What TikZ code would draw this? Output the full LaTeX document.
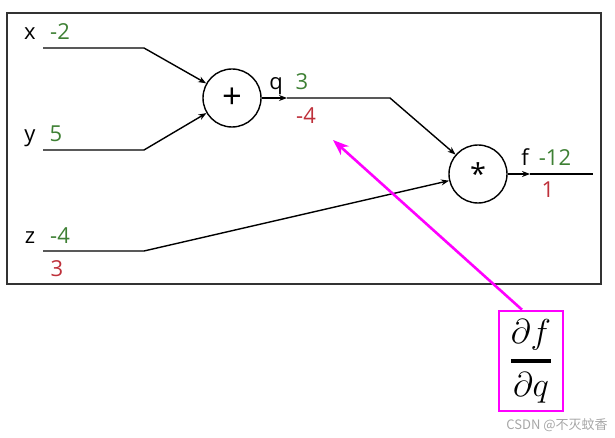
\documentclass[tikz,border=0pt]{standalone}
\usepackage{amsmath}
\usepackage{fontspec}
\setmainfont{Open Sans}
\newfontfamily\cjk{Noto Sans CJK SC}
\usetikzlibrary{arrows.meta,positioning}
\definecolor{valgreen}{RGB}{62,128,52}
\definecolor{gradred}{RGB}{190,48,58}
\definecolor{hilite}{RGB}{255,0,255}

\begin{document}
\begin{tikzpicture}[x=0.5pt,y=-0.5pt,
op/.style={circle,draw,line width=0.7pt,minimum size=29pt,inner sep=0pt,font=\LARGE},
lbl/.style={anchor=base,inner sep=0pt,font=\fontsize{11}{13}\selectfont},
fwd/.style={lbl,text=valgreen},
bwd/.style={lbl,text=gradred},
wire/.style={line width=0.7pt},
tip/.style={wire,-{Stealth[length=4pt,width=3pt]}}]
\useasboundingbox (0,0) rectangle (615,438);
\draw[line width=0.7pt,black!80] (7,13) rectangle (601,284);
% gates
\node[op] (P) at (232,98) {+};
\node[op,font=\Large] (M) at (478,174) {\raisebox{-0.22em}{*}};
% wire corners
\coordinate (x0) at (43,48);
\coordinate (x1) at (144,48);
\coordinate (y0) at (43,150);
\coordinate (y1) at (144,150);
\coordinate (z0) at (43,251);
\coordinate (z1) at (144,251);
\coordinate (qa) at (287,98);
\coordinate (q1) at (390,98);
\coordinate (fa) at (530,174);
\coordinate (f1) at (593,174);
\draw[tip] (x0)--(x1)--(P);
\draw[tip] (y0)--(y1)--(P);
\draw[tip] (z0)--(z1)--(M);
\draw[tip] (P)--(qa);
\draw[tip] (qa)--(q1)--(M);
\draw[tip] (M)--(fa);
\draw[wire] (fa)--(f1);
% values
\node[lbl] (xn) at (30,40) {x};
\node[fwd] (xv) at (60,40) {-2};
\node[lbl] (yn) at (30,142) {y};
\node[fwd] (yv) at (56,142) {5};
\node[lbl] (zn) at (30,243) {z};
\node[fwd] (zv) at (60,243) {-4};
\node[bwd] (zg) at (57,276) {3};
\node[lbl] (qn) at (276,90) {q};
\node[fwd] (qv) at (302,90) {3};
\node[bwd] (qg) at (306,124) {-4};
\node[lbl] (fn) at (525,166) {f};
\node[fwd] (fv) at (555,166) {-12};
\node[bwd] (fg) at (548,198) {1};
% derivative callout
\coordinate (hit) at (333,140);
\node[draw=hilite,line width=1.3pt,minimum width=32pt,minimum height=50pt,inner sep=1pt,
font=\fontsize{19}{22}\selectfont] (dfdq) at (531,361)
{$\genfrac{}{}{1.6pt}{0}{\partial f}{\partial q}$};
\draw[hilite,line width=1.3pt,-{Stealth[length=8pt,width=6pt]}] (dfdq.100)--(hit);
\node[anchor=east,inner sep=0pt,text=black!35,font=\cjk\fontsize{6.5}{8}\selectfont] (wm) at (608,425) {CSDN @不灭蚊香};
\end{tikzpicture}
\end{document}
